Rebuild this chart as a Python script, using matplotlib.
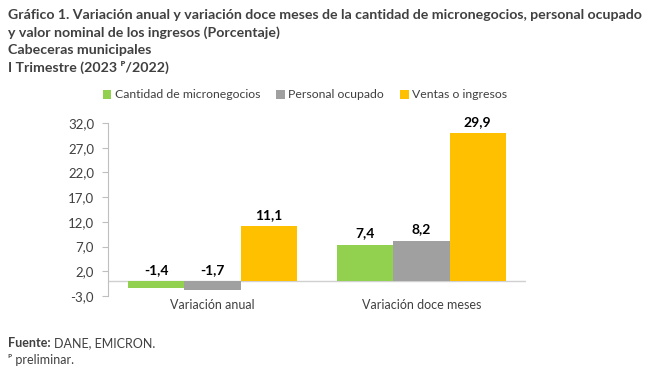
import matplotlib
matplotlib.use("Agg")
import matplotlib.pyplot as plt
import numpy as np

# data
categorias = ["Variación anual", "Variación doce meses"]
series = ["Cantidad de micronegocios", "Personal ocupado", "Ventas o ingresos"]
micronegocios = [-1.4, 7.4]
personal = [-1.7, 8.2]
ventas = [11.1, 29.9]
yticks = [-3.0, 2.0, 7.0, 12.0, 17.0, 22.0, 27.0, 32.0]

colores = ["#92D050", "#A0A0A0", "#FFC000"]

plt.rcParams['font.family'] = ['Lato', 'DejaVu Sans']

fig = plt.figure(figsize=(6.57, 3.77), dpi=100)
ax = fig.add_axes([108/657, 1 - 296/377, 418/657, 173/377])

x = np.arange(len(categorias))
w = 0.268
valores = [micronegocios, personal, ventas]
for i, (nombre, vals) in enumerate(zip(series, valores)):
    pos = x + (i - 1) * w
    ax.bar(pos, vals, width=w, color=colores[i], label=nombre, zorder=2)
    for px, v in zip(pos, vals):
        ax.annotate(f"{v:.1f}".replace(".", ","), (px, max(v, 0)),
                    xytext=(0, 4), textcoords="offset points",
                    ha="center", va="bottom", fontsize=10, fontweight="bold",
                    color="black")

ax.set_xlim(-0.5, 1.5)
ax.set_ylim(-3, 32)
ax.set_yticks(yticks)
ax.set_yticklabels([f"{t:.1f}".replace(".", ",") for t in yticks])
ax.set_xticks(x)
ax.set_xticklabels(categorias)
ax.axhline(0, color="#D0D0D0", lw=1, zorder=1)

for s in ["top", "right", "bottom"]:
    ax.spines[s].set_visible(False)
ax.spines["left"].set_color("#BFBFBF")
ax.tick_params(axis="y", length=4, color="#BFBFBF", labelsize=9.5,
               labelcolor="#404040", pad=6)
ax.tick_params(axis="x", length=0, labelsize=9, labelcolor="#404040", pad=2)

fig.legend(loc="center", bbox_to_anchor=(305/657, 1 - 95/377), ncol=3,
           frameon=False, fontsize=8.8, handlelength=0.7, handleheight=0.7,
           handletextpad=0.3, columnspacing=1.3, labelcolor="#404040")

titulo = ["Gráfico 1. Variación anual y variación doce meses de la cantidad de micronegocios, personal ocupado",
          "y valor nominal de los ingresos (Porcentaje)",
          "Cabeceras municipales",
          "I Trimestre (2023 ᴾ/2022)"]
for k, linea in enumerate(titulo):
    fig.text(8/657, 1 - (15 + 17.5 * k)/377, linea, fontsize=10.2,
             fontweight="bold", color="#404040", va="center", ha="left")

fig.text(8/657, 1 - 343/377, "Fuente:", fontsize=9, fontweight="bold",
         color="#404040", va="center")
fig.text(54/657, 1 - 343/377, "DANE, EMICRON.", fontsize=9,
         color="#404040", va="center")
fig.text(8/657, 1 - 360/377, "ᴾ preliminar.", fontsize=9,
         color="#404040", va="center")

fig.savefig("out.png", dpi=100)
